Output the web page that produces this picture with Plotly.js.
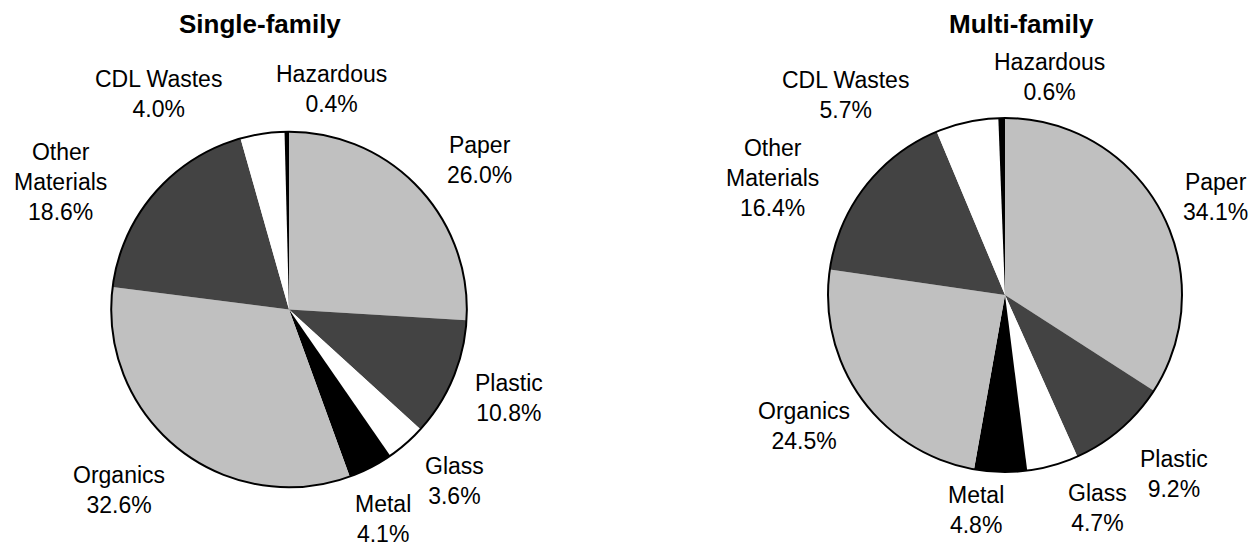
<!DOCTYPE html>
<html>
<head>
<meta charset="utf-8">
<script src="https://cdn.plot.ly/plotly-3.0.1.min.js"></script>
<style>html,body{margin:0;padding:0;background:#fff;}#chart{width:1257px;height:547px;}</style>
</head>
<body>
<div id="chart"></div>
<script>
// ---- data ----
var categories = ["Paper", "Plastic", "Glass", "Metal", "Organics", "Other<br>Materials", "CDL Wastes", "Hazardous"];
var singleFamily = [26.0, 10.8, 3.6, 4.1, 32.6, 18.6, 4.0, 0.4];
var multiFamily  = [34.1, 9.2, 4.7, 4.8, 24.5, 16.4, 5.7, 0.6];
var chartTitles  = ["Single-family", "Multi-family"];

// ---- styling / layout (not data) ----
var W = 1257, H = 547;
var sliceColors = ["#c0c0c0", "#434343", "#ffffff", "#000000", "#c0c0c0", "#434343", "#ffffff", "#000000"];
var FONT = "Liberation Sans, Arial, Helvetica, sans-serif";
var pies = [
  {cx: 289, cy: 309.5, r: 177.8, titleX: 259.5, titleY: 24,
   // label block placement: [angle clockwise from 12 o'clock (deg), distance in radii]
   place: [[51.8,1.36],[111.9,1.334],[136.1,1.339],[155.8,1.29],[223.3,1.395],[299.2,1.475],[328.9,1.416],[11.0,1.266]]},
  {cx: 1005, cy: 295, r: 177, titleX: 1021, titleY: 24,
   place: [[65.0,1.315],[136.7,1.389],[156.6,1.311],[187.7,1.226],[236.9,1.355],[296.7,1.473],[321.4,1.446],[11.6,1.259]]}
];
var series = [singleFamily, multiFamily];

var traces = [], annotations = [];
pies.forEach(function(p, k){
  var dom = {
    x: [(p.cx - p.r) / W, (p.cx + p.r) / W],
    y: [(H - p.cy - p.r) / H, (H - p.cy + p.r) / H]
  };
  traces.push({
    type: "pie", labels: categories, values: series[k], domain: dom,
    sort: false, direction: "clockwise", rotation: 0,
    textinfo: "none", hoverinfo: "label+percent",
    marker: {colors: sliceColors, line: {width: 0}},
    showlegend: false
  });
  // outer outline
  traces.push({
    type: "pie", labels: ["outline"], values: [1], domain: dom,
    textinfo: "none", hoverinfo: "skip",
    marker: {colors: ["rgba(0,0,0,0)"], line: {color: "#000", width: 2}},
    showlegend: false
  });
  series[k].forEach(function(v, i){
    var a = p.place[i][0] * Math.PI / 180, d = p.place[i][1] * p.r;
    var px = p.cx + d * Math.sin(a), py = p.cy - d * Math.cos(a);
    annotations.push({
      xref: "paper", yref: "paper", x: px / W, y: 1 - py / H,
      xanchor: "center", yanchor: "middle", align: "center", showarrow: false,
      borderpad: 0,
      text: categories[i] + "<br>" + v.toFixed(1) + "%",
      font: {family: FONT, size: 23, color: "#000"}
    });
  });
  annotations.push({
    xref: "paper", yref: "paper", x: p.titleX / W, y: 1 - p.titleY / H,
    xanchor: "center", yanchor: "middle", showarrow: false,
    text: "<b>" + chartTitles[k] + "</b>",
    font: {family: FONT, size: 26, color: "#000"}
  });
});

var layout = {
  width: W, height: H,
  margin: {l: 0, r: 0, t: 0, b: 0},
  paper_bgcolor: "#fff", plot_bgcolor: "#fff",
  showlegend: false,
  annotations: annotations
};
Plotly.newPlot("chart", traces, layout, {displayModeBar: false, staticPlot: true});
</script>
</body>
</html>
